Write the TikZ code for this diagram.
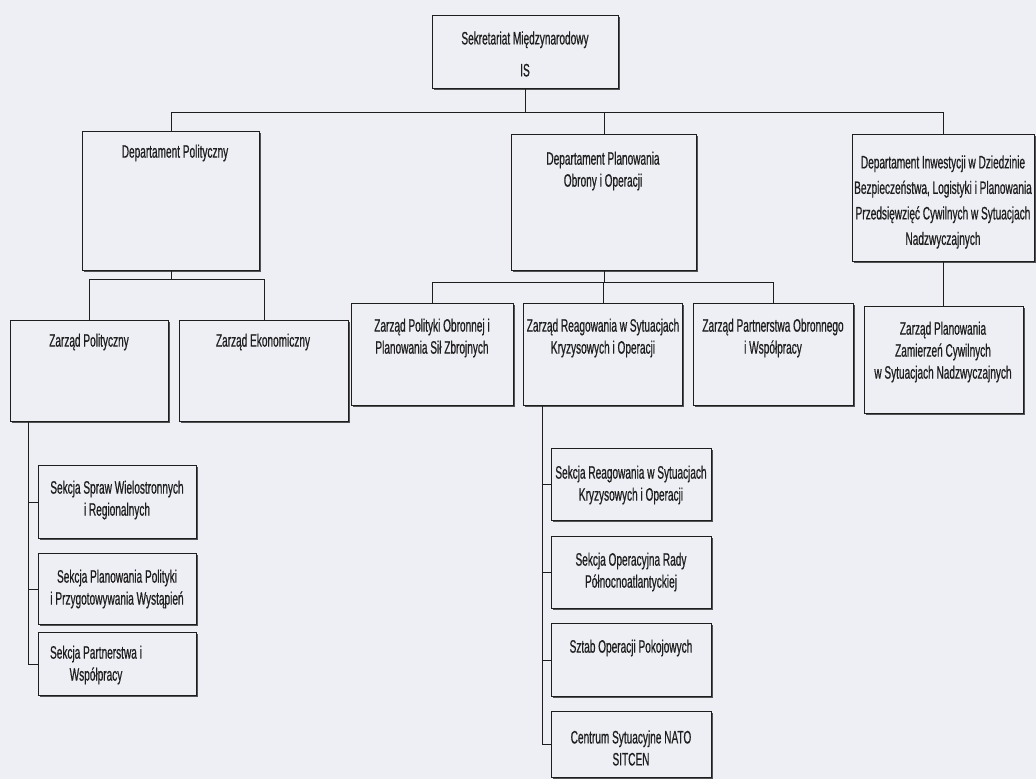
\documentclass[tikz,border=0pt]{standalone}
\usepackage{fontspec}
\setmainfont[FakeStretch=0.56,FakeBold=0.6]{Liberation Sans}
\usetikzlibrary{shadows}
\definecolor{bg}{HTML}{EDEFF4}
\definecolor{ink}{HTML}{1E1E1E}
\tikzset{
  orgbox/.style={draw=ink, line width=1pt, fill=bg, inner sep=0pt, anchor=north west,
    drop shadow={shadow xshift=1.3pt, shadow yshift=-1.3pt, fill=ink, opacity=0.75}},
  lbl/.style={align=center, font=\fontsize{18}{22}\selectfont, text=ink, inner sep=0pt},
  conn/.style={draw=ink, line width=1pt},
}
\begin{document}
\begin{tikzpicture}[x=1pt,y=-1pt]
\fill[bg] (0,0) rectangle (1036,779);
\useasboundingbox (0,0) rectangle (1036,779);

% boxes
\node[orgbox, minimum width=186pt, minimum height=73pt]  (sek)   at (432,15)  {};
\node[orgbox, minimum width=177pt, minimum height=139pt] (dpol)  at (82,131)  {};
\node[orgbox, minimum width=185pt, minimum height=136pt] (dplan) at (511,134) {};
\node[orgbox, minimum width=182pt, minimum height=127pt] (dinw)  at (852,134) {};
\node[orgbox, minimum width=158pt, minimum height=101pt] (zpol)  at (10,320)  {};
\node[orgbox, minimum width=169pt, minimum height=101pt] (zek)   at (179,320) {};
\node[orgbox, minimum width=162pt, minimum height=102pt] (zpo)   at (351,303) {};
\node[orgbox, minimum width=159pt, minimum height=102pt] (zre)   at (523,303) {};
\node[orgbox, minimum width=160pt, minimum height=102pt] (zpa)   at (693,303) {};
\node[orgbox, minimum width=159pt, minimum height=107pt] (zpz)   at (864,306) {};
\node[orgbox, minimum width=158pt, minimum height=73pt]  (ss1)   at (38,465)  {};
\node[orgbox, minimum width=158pt, minimum height=71pt]  (ss2)   at (38,553)  {};
\node[orgbox, minimum width=158pt, minimum height=63pt]  (ss3)   at (38,632)  {};
\node[orgbox, minimum width=160pt, minimum height=72pt]  (sr1)   at (551,448) {};
\node[orgbox, minimum width=160pt, minimum height=72pt]  (sr2)   at (551,536) {};
\node[orgbox, minimum width=160pt, minimum height=73pt]  (sr3)   at (551,623) {};
\node[orgbox, minimum width=160pt, minimum height=66pt]  (sr4)   at (551,711) {};

% labels
\node[lbl] (tsek)  at (525,54)  {Sekretariat Międzynarodowy\\[10pt]IS};
\node[lbl] (tdpol) at (175,153) {Departament Polityczny};
\node[lbl] (tdplan) at (603,171) {Departament Planowania\\Obrony i Operacji};
\node[lbl, font=\fontsize{18}{25.5}\selectfont] (tdinw) at (943,202) {Departament Inwestycji w Dziedzinie\\Bezpieczeństwa, Logistyki i Planowania\\Przedsięwzięć Cywilnych w Sytuacjach\\Nadzwyczajnych};
\node[lbl] (tzpol) at (89,342)  {Zarząd Polityczny};
\node[lbl] (tzek)  at (263,342) {Zarząd Ekonomiczny};
\node[lbl] (tzpo)  at (432,338) {Zarząd Polityki Obronnej i\\Planowania Sił Zbrojnych};
\node[lbl] (tzre)  at (603,338) {Zarząd Reagowania w Sytuacjach\\Kryzysowych i Operacji};
\node[lbl] (tzpa)  at (773,338) {Zarząd Partnerstwa Obronnego\\i Współpracy};
\node[lbl] (tzpz)  at (943,352) {Zarząd Planowania\\Zamierzeń Cywilnych\\w Sytuacjach Nadzwyczajnych};
\node[lbl] (tss1)  at (117,500) {Sekcja Spraw Wielostronnych\\i Regionalnych};
\node[lbl] (tss2)  at (117,589) {Sekcja Planowania Polityki\\i Przygotowywania Wystąpień};
\node[lbl] (tss3)  at (96,665)  {Sekcja Partnerstwa i\\Współpracy};
\node[lbl] (tsr1)  at (631,485) {Sekcja Reagowania w Sytuacjach\\Kryzysowych i Operacji};
\node[lbl] (tsr2)  at (631,572) {Sekcja Operacyjna Rady\\Północnoatlantyckiej};
\node[lbl] (tsr3)  at (631,648) {Sztab Operacji Pokojowych};
\node[lbl] (tsr4)  at (631,748) {Centrum Sytuacyjne NATO\\SITCEN};

% connectors
\coordinate (top) at (526,112);
\coordinate (h1) at (0,279);
\coordinate (h2) at (0,282);
\coordinate (v1) at (28,0);
\coordinate (v2) at (542,0);

\draw[conn] (sek.south) -- (sek.south |- top);
\draw[conn] (dpol.north) -- (dpol.north |- top) -- (dinw.north |- top) -- (dinw.north);
\draw[conn] (dplan.north) -- (dplan.north |- top);

\draw[conn] (dpol.south) -- (dpol.south |- h1);
\draw[conn] (zpol.north) -- (zpol.north |- h1) -- (zek.north |- h1) -- (zek.north);

\draw[conn] (dplan.south) -- (dplan.south |- h2);
\draw[conn] (zpo.north) -- (zpo.north |- h2) -- (zpa.north |- h2) -- (zpa.north);
\draw[conn] (zre.north) -- (zre.north |- h2);

\draw[conn] (dinw.south) -- (dinw.south |- zpz.north);

\draw[conn] (zpol.south -| v1) -- (ss3.west -| v1) -- (ss3.west);
\draw[conn] (ss1.west -| v1) -- (ss1.west);
\draw[conn] (ss2.west -| v1) -- (ss2.west);

\draw[conn] (zre.south -| v2) -- (sr4.west -| v2) -- (sr4.west);
\draw[conn] (sr1.west -| v2) -- (sr1.west);
\draw[conn] (sr2.west -| v2) -- (sr2.west);
\draw[conn] (sr3.west -| v2) -- (sr3.west);
\end{tikzpicture}
\end{document}
